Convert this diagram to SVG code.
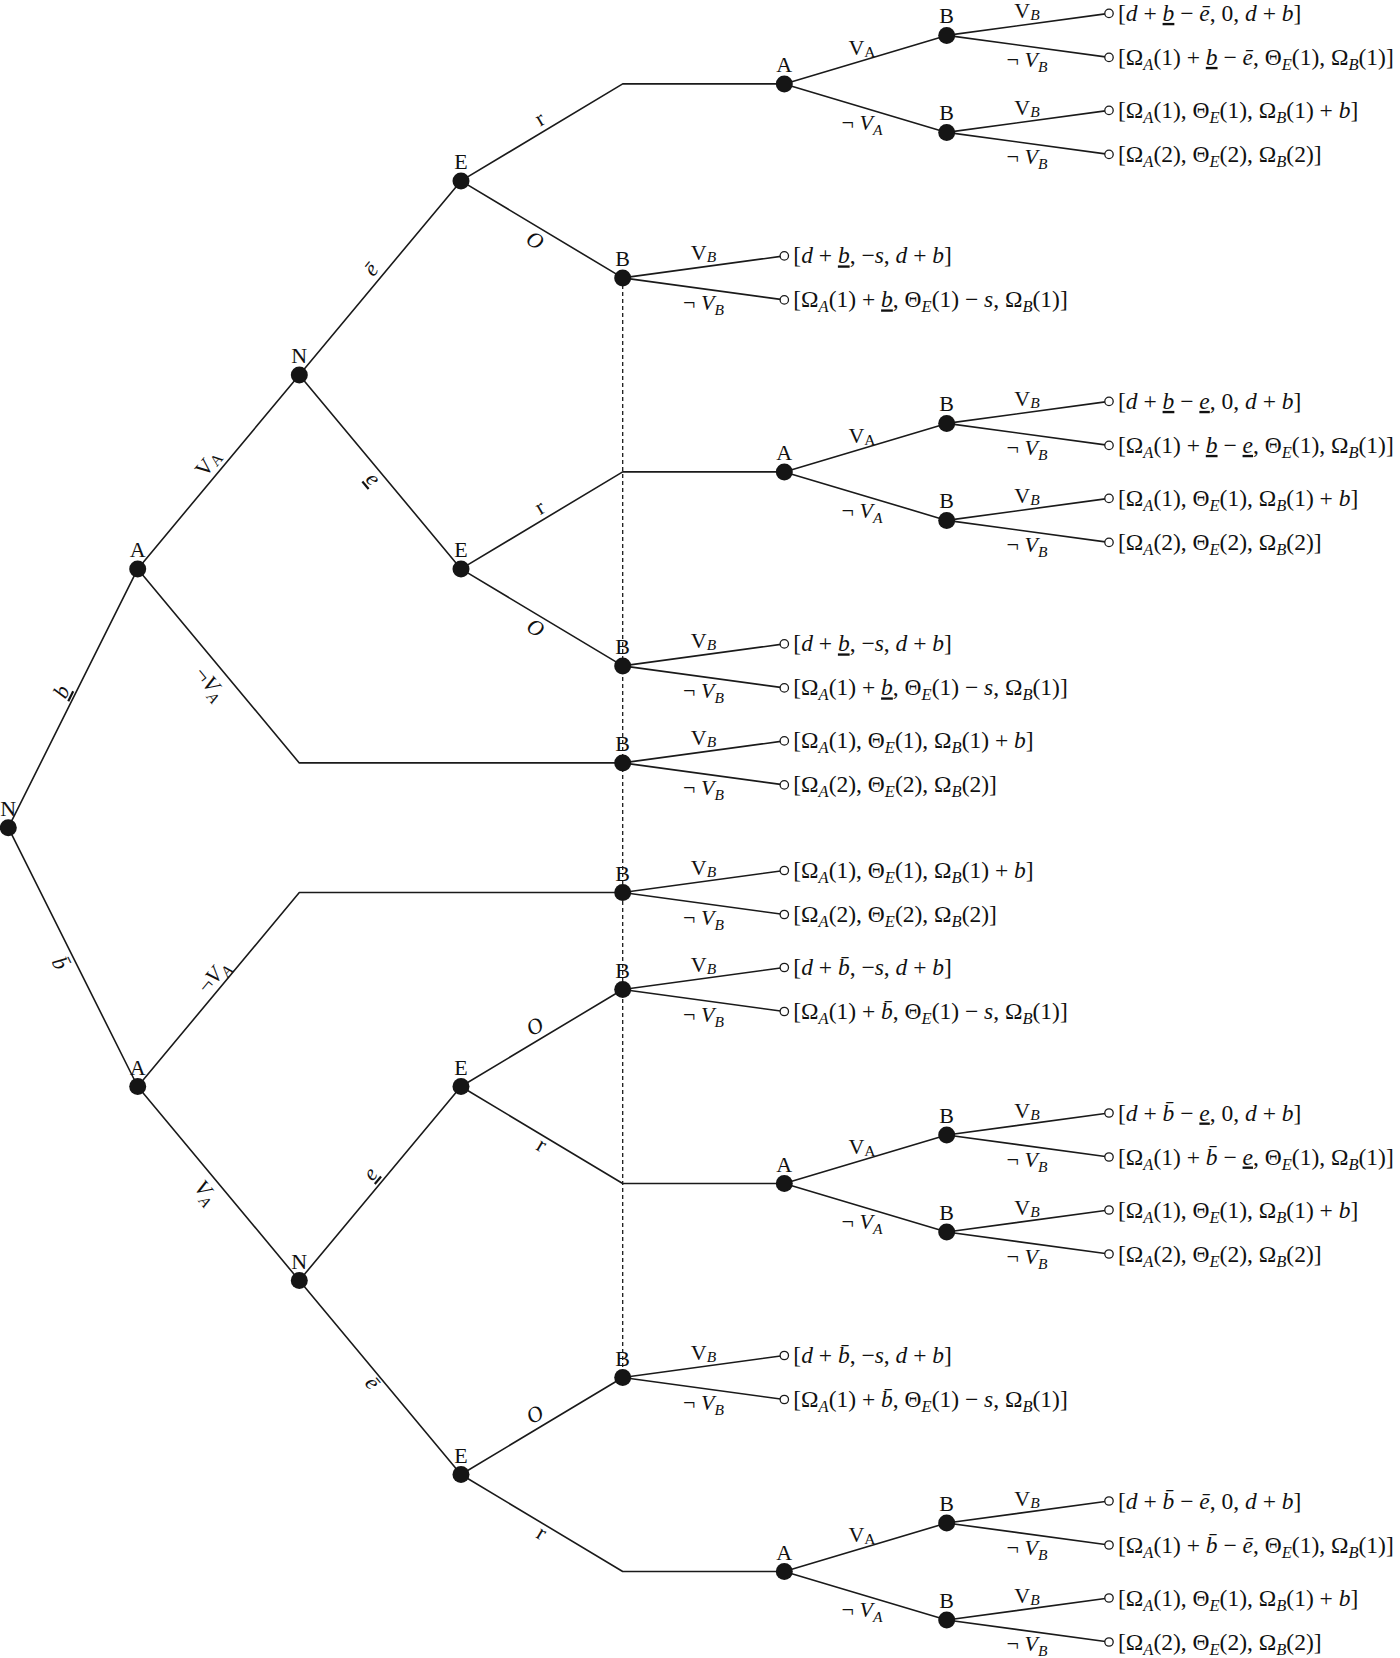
<svg xmlns="http://www.w3.org/2000/svg" width="1400" height="1658" viewBox="0 0 1400 1658">
<style>
.e{stroke:#1a1a1a;stroke-width:1.6;fill:none;stroke-linejoin:round}
.d{stroke:#1a1a1a;stroke-width:1.3;stroke-dasharray:4 3;fill:none}
.n{fill:#151515}
.o{fill:#fff;stroke:#1a1a1a;stroke-width:1.3}
text{font-family:"Liberation Serif","DejaVu Serif",serif;fill:#111}
.nl{font-size:22px;text-anchor:middle}
.el{font-size:22px;text-anchor:middle}
.el .s{font-size:15.5px}
.t{font-size:23.5px}
.t .s{font-size:16.5px}
.i{font-style:italic}
.u{text-decoration:underline}
</style>
<g id="connectors">
<path class="e" d="M8.3,827.7L137.7,568.9M8.3,827.7L137.7,1086.5"/>
<path class="e" d="M137.7,568.9L299.3,374.9M137.7,568.9L299.3,762.9L622.7,762.9"/>
<path class="e" d="M137.7,1086.5L299.3,892.5L622.7,892.5M137.7,1086.5L299.3,1280.5"/>
<path class="e" d="M299.3,374.9L461,180.9M299.3,374.9L461,568.9M299.3,1280.5L461,1086.5M299.3,1280.5L461,1474.5"/>
<path class="e" d="M461,180.9L622.7,83.9L784.3,83.9M461,180.9L622.7,277.9"/>
<path class="e" d="M461,568.9L622.7,471.9L784.3,471.9M461,568.9L622.7,665.9"/>
<path class="e" d="M461,1086.5L622.7,989.5M461,1086.5L622.7,1183.5L784.3,1183.5"/>
<path class="e" d="M461,1474.5L622.7,1377.5M461,1474.5L622.7,1571.5L784.3,1571.5"/>
<path class="e" d="M784.3,83.9L946.7,35.4M784.3,83.9L946.7,132.4M784.3,471.9L946.7,423.4M784.3,471.9L946.7,520.4M784.3,1183.5L946.7,1135M784.3,1183.5L946.7,1232M784.3,1571.5L946.7,1523M784.3,1571.5L946.7,1620"/>
<path class="e" d="M946.7,35.4L1109,13.4M946.7,35.4L1109,57.4M946.7,132.4L1109,110.4M946.7,132.4L1109,154.4M946.7,423.4L1109,401.4M946.7,423.4L1109,445.4M946.7,520.4L1109,498.4M946.7,520.4L1109,542.4"/>
<path class="e" d="M946.7,1135L1109,1113M946.7,1135L1109,1157M946.7,1232L1109,1210M946.7,1232L1109,1254M946.7,1523L1109,1501M946.7,1523L1109,1545M946.7,1620L1109,1598M946.7,1620L1109,1642"/>
<path class="e" d="M622.7,277.9L784.3,255.9M622.7,277.9L784.3,299.9M622.7,665.9L784.3,643.9M622.7,665.9L784.3,687.9M622.7,762.9L784.3,740.9M622.7,762.9L784.3,784.9"/>
<path class="e" d="M622.7,892.5L784.3,870.5M622.7,892.5L784.3,914.5M622.7,989.5L784.3,967.5M622.7,989.5L784.3,1011.5M622.7,1377.5L784.3,1355.5M622.7,1377.5L784.3,1399.5"/>
<path class="d" d="M622.7,277.9L622.7,1377.5"/>
</g>
<g id="edge-labels">
<text class="el" transform="translate(61.7,691.7) rotate(-63.4)" y="7"><tspan class="i u">b</tspan></text>
<text class="el" transform="translate(60,963.3) rotate(63.4)" y="7"><tspan class="i">b̄</tspan></text>
<text class="el" transform="translate(208.3,463.3) rotate(-50.2)" y="7">V<tspan class="s" dy="2">A</tspan></text>
<text class="el" transform="translate(210,683.3) rotate(50.2)" y="7">¬<tspan class="i">V</tspan><tspan class="i s" dy="5">A</tspan></text>
<text class="el" transform="translate(213.3,976.7) rotate(-50.2)" y="7">¬<tspan class="i">V</tspan><tspan class="i s" dy="5">A</tspan></text>
<text class="el" transform="translate(206,1192) rotate(50.2)" y="7"><tspan class="i">V</tspan><tspan class="i s" dy="5">A</tspan></text>
<text class="el" transform="translate(371.7,270) rotate(-50.2)" y="6"><tspan class="i">ē</tspan></text>
<text class="el" transform="translate(371.7,480) rotate(50.2)" y="5"><tspan class="i u">e</tspan></text>
<text class="el" transform="translate(371.7,1175) rotate(-50.2)" y="5"><tspan class="i u">e</tspan></text>
<text class="el" transform="translate(371.7,1383.3) rotate(50.2)" y="6"><tspan class="i">ē</tspan></text>
<text class="el" transform="translate(540.7,120.7) rotate(-31)" y="5">r</text>
<text class="el" transform="translate(535,240.7) rotate(31)" y="7"><tspan class="i">O</tspan></text>
<text class="el" transform="translate(540.7,509) rotate(-31)" y="5">r</text>
<text class="el" transform="translate(535.5,628) rotate(31)" y="7"><tspan class="i">O</tspan></text>
<text class="el" transform="translate(535,1026.7) rotate(-31)" y="7"><tspan class="i">O</tspan></text>
<text class="el" transform="translate(540.7,1146.5) rotate(31)" y="5">r</text>
<text class="el" transform="translate(535,1414.7) rotate(-31)" y="7"><tspan class="i">O</tspan></text>
<text class="el" transform="translate(540.7,1534.5) rotate(31)" y="5">r</text>
<text class="el" x="862" y="54.5">V<tspan class="s" dy="2">A</tspan></text>
<text class="el" x="862" y="129.5">¬ <tspan class="i">V</tspan><tspan class="i s" dy="5">A</tspan></text>
<text class="el" x="862" y="442.5">V<tspan class="s" dy="2">A</tspan></text>
<text class="el" x="862" y="517.5">¬ <tspan class="i">V</tspan><tspan class="i s" dy="5">A</tspan></text>
<text class="el" x="862" y="1154.1">V<tspan class="s" dy="2">A</tspan></text>
<text class="el" x="862" y="1229.1">¬ <tspan class="i">V</tspan><tspan class="i s" dy="5">A</tspan></text>
<text class="el" x="862" y="1542.1">V<tspan class="s" dy="2">A</tspan></text>
<text class="el" x="862" y="1617.1">¬ <tspan class="i">V</tspan><tspan class="i s" dy="5">A</tspan></text>
<text class="el" x="1027" y="17.9">V<tspan class="i s" dy="2">B</tspan></text>
<text class="el" x="1027" y="67.4">¬ <tspan class="i">V</tspan><tspan class="i s" dy="5">B</tspan></text>
<text class="el" x="1027" y="114.9">V<tspan class="i s" dy="2">B</tspan></text>
<text class="el" x="1027" y="164.4">¬ <tspan class="i">V</tspan><tspan class="i s" dy="5">B</tspan></text>
<text class="el" x="1027" y="405.9">V<tspan class="i s" dy="2">B</tspan></text>
<text class="el" x="1027" y="455.4">¬ <tspan class="i">V</tspan><tspan class="i s" dy="5">B</tspan></text>
<text class="el" x="1027" y="502.9">V<tspan class="i s" dy="2">B</tspan></text>
<text class="el" x="1027" y="552.4">¬ <tspan class="i">V</tspan><tspan class="i s" dy="5">B</tspan></text>
<text class="el" x="1027" y="1117.5">V<tspan class="i s" dy="2">B</tspan></text>
<text class="el" x="1027" y="1167">¬ <tspan class="i">V</tspan><tspan class="i s" dy="5">B</tspan></text>
<text class="el" x="1027" y="1214.5">V<tspan class="i s" dy="2">B</tspan></text>
<text class="el" x="1027" y="1264">¬ <tspan class="i">V</tspan><tspan class="i s" dy="5">B</tspan></text>
<text class="el" x="1027" y="1505.5">V<tspan class="i s" dy="2">B</tspan></text>
<text class="el" x="1027" y="1555">¬ <tspan class="i">V</tspan><tspan class="i s" dy="5">B</tspan></text>
<text class="el" x="1027" y="1602.5">V<tspan class="i s" dy="2">B</tspan></text>
<text class="el" x="1027" y="1651">¬ <tspan class="i">V</tspan><tspan class="i s" dy="5">B</tspan></text>
<text class="el" x="703.5" y="260.4">V<tspan class="i s" dy="2">B</tspan></text>
<text class="el" x="703.5" y="309.9">¬ <tspan class="i">V</tspan><tspan class="i s" dy="5">B</tspan></text>
<text class="el" x="703.5" y="648.4">V<tspan class="i s" dy="2">B</tspan></text>
<text class="el" x="703.5" y="697.9">¬ <tspan class="i">V</tspan><tspan class="i s" dy="5">B</tspan></text>
<text class="el" x="703.5" y="745.4">V<tspan class="i s" dy="2">B</tspan></text>
<text class="el" x="703.5" y="794.9">¬ <tspan class="i">V</tspan><tspan class="i s" dy="5">B</tspan></text>
<text class="el" x="703.5" y="875">V<tspan class="i s" dy="2">B</tspan></text>
<text class="el" x="703.5" y="924.5">¬ <tspan class="i">V</tspan><tspan class="i s" dy="5">B</tspan></text>
<text class="el" x="703.5" y="972">V<tspan class="i s" dy="2">B</tspan></text>
<text class="el" x="703.5" y="1021.5">¬ <tspan class="i">V</tspan><tspan class="i s" dy="5">B</tspan></text>
<text class="el" x="703.5" y="1360">V<tspan class="i s" dy="2">B</tspan></text>
<text class="el" x="703.5" y="1409.5">¬ <tspan class="i">V</tspan><tspan class="i s" dy="5">B</tspan></text>
</g>
<g id="node-root"><circle class="n" cx="8.3" cy="827.7" r="8.5"/><text class="nl" x="8.3" y="815.7">N</text></g>
<g id="node-A-upper"><circle class="n" cx="137.7" cy="568.9" r="8.5"/><text class="nl" x="137.7" y="556.9">A</text></g>
<g id="node-A-lower"><circle class="n" cx="137.7" cy="1086.5" r="8.5"/><text class="nl" x="137.7" y="1074.5">A</text></g>
<g id="node-N-upper"><circle class="n" cx="299.3" cy="374.9" r="8.5"/><text class="nl" x="299.3" y="362.9">N</text></g>
<g id="node-N-lower"><circle class="n" cx="299.3" cy="1280.5" r="8.5"/><text class="nl" x="299.3" y="1268.5">N</text></g>
<g id="node-E1"><circle class="n" cx="461" cy="180.9" r="8.5"/><text class="nl" x="461" y="168.9">E</text></g>
<g id="node-E2"><circle class="n" cx="461" cy="568.9" r="8.5"/><text class="nl" x="461" y="556.9">E</text></g>
<g id="node-E3"><circle class="n" cx="461" cy="1086.5" r="8.5"/><text class="nl" x="461" y="1074.5">E</text></g>
<g id="node-E4"><circle class="n" cx="461" cy="1474.5" r="8.5"/><text class="nl" x="461" y="1462.5">E</text></g>
<g id="node-B1"><circle class="n" cx="622.7" cy="277.9" r="8.5"/><text class="nl" x="622.7" y="265.9">B</text></g>
<g id="node-B2"><circle class="n" cx="622.7" cy="665.9" r="8.5"/><text class="nl" x="622.7" y="653.9">B</text></g>
<g id="node-B3"><circle class="n" cx="622.7" cy="762.9" r="8.5"/><text class="nl" x="622.7" y="750.9">B</text></g>
<g id="node-B4"><circle class="n" cx="622.7" cy="892.5" r="8.5"/><text class="nl" x="622.7" y="880.5">B</text></g>
<g id="node-B5"><circle class="n" cx="622.7" cy="989.5" r="8.5"/><text class="nl" x="622.7" y="977.5">B</text></g>
<g id="node-B6"><circle class="n" cx="622.7" cy="1377.5" r="8.5"/><text class="nl" x="622.7" y="1365.5">B</text></g>
<g id="node-A1"><circle class="n" cx="784.3" cy="83.9" r="8.5"/><text class="nl" x="784.3" y="71.9">A</text></g>
<g id="node-A2"><circle class="n" cx="784.3" cy="471.9" r="8.5"/><text class="nl" x="784.3" y="459.9">A</text></g>
<g id="node-A3"><circle class="n" cx="784.3" cy="1183.5" r="8.5"/><text class="nl" x="784.3" y="1171.5">A</text></g>
<g id="node-A4"><circle class="n" cx="784.3" cy="1571.5" r="8.5"/><text class="nl" x="784.3" y="1559.5">A</text></g>
<g id="node-B1a"><circle class="n" cx="946.7" cy="35.4" r="8.5"/><text class="nl" x="946.7" y="23.4">B</text></g>
<g id="node-B1b"><circle class="n" cx="946.7" cy="132.4" r="8.5"/><text class="nl" x="946.7" y="120.4">B</text></g>
<g id="node-B2a"><circle class="n" cx="946.7" cy="423.4" r="8.5"/><text class="nl" x="946.7" y="411.4">B</text></g>
<g id="node-B2b"><circle class="n" cx="946.7" cy="520.4" r="8.5"/><text class="nl" x="946.7" y="508.4">B</text></g>
<g id="node-B3a"><circle class="n" cx="946.7" cy="1135" r="8.5"/><text class="nl" x="946.7" y="1123">B</text></g>
<g id="node-B3b"><circle class="n" cx="946.7" cy="1232" r="8.5"/><text class="nl" x="946.7" y="1220">B</text></g>
<g id="node-B4a"><circle class="n" cx="946.7" cy="1523" r="8.5"/><text class="nl" x="946.7" y="1511">B</text></g>
<g id="node-B4b"><circle class="n" cx="946.7" cy="1620" r="8.5"/><text class="nl" x="946.7" y="1608">B</text></g>
<g id="leaf-1"><circle class="o" cx="1109" cy="13.4" r="4.2"/><text class="t" x="1118" y="20.9">[<tspan class="i">d</tspan> + <tspan class="i u">b</tspan> − <tspan class="i">ē</tspan>, 0, <tspan class="i">d</tspan> + <tspan class="i">b</tspan>]</text></g>
<g id="leaf-2"><circle class="o" cx="1109" cy="57.4" r="4.2"/><text class="t" x="1118" y="64.9">[Ω<tspan class="i s" dy="5">A</tspan><tspan dy="-5">(1) + </tspan><tspan class="i u">b</tspan> − <tspan class="i">ē</tspan>, Θ<tspan class="i s" dy="5">E</tspan><tspan dy="-5">(1), Ω</tspan><tspan class="i s" dy="5">B</tspan><tspan dy="-5">(1)]</tspan></text></g>
<g id="leaf-3"><circle class="o" cx="1109" cy="110.4" r="4.2"/><text class="t" x="1118" y="117.9">[Ω<tspan class="i s" dy="5">A</tspan><tspan dy="-5">(1), Θ</tspan><tspan class="i s" dy="5">E</tspan><tspan dy="-5">(1), Ω</tspan><tspan class="i s" dy="5">B</tspan><tspan dy="-5">(1) + </tspan><tspan class="i">b</tspan>]</text></g>
<g id="leaf-4"><circle class="o" cx="1109" cy="154.4" r="4.2"/><text class="t" x="1118" y="161.9">[Ω<tspan class="i s" dy="5">A</tspan><tspan dy="-5">(2), Θ</tspan><tspan class="i s" dy="5">E</tspan><tspan dy="-5">(2), Ω</tspan><tspan class="i s" dy="5">B</tspan><tspan dy="-5">(2)]</tspan></text></g>
<g id="leaf-5"><circle class="o" cx="1109" cy="401.4" r="4.2"/><text class="t" x="1118" y="408.9">[<tspan class="i">d</tspan> + <tspan class="i u">b</tspan> − <tspan class="i u">e</tspan>, 0, <tspan class="i">d</tspan> + <tspan class="i">b</tspan>]</text></g>
<g id="leaf-6"><circle class="o" cx="1109" cy="445.4" r="4.2"/><text class="t" x="1118" y="452.9">[Ω<tspan class="i s" dy="5">A</tspan><tspan dy="-5">(1) + </tspan><tspan class="i u">b</tspan> − <tspan class="i u">e</tspan>, Θ<tspan class="i s" dy="5">E</tspan><tspan dy="-5">(1), Ω</tspan><tspan class="i s" dy="5">B</tspan><tspan dy="-5">(1)]</tspan></text></g>
<g id="leaf-7"><circle class="o" cx="1109" cy="498.4" r="4.2"/><text class="t" x="1118" y="505.9">[Ω<tspan class="i s" dy="5">A</tspan><tspan dy="-5">(1), Θ</tspan><tspan class="i s" dy="5">E</tspan><tspan dy="-5">(1), Ω</tspan><tspan class="i s" dy="5">B</tspan><tspan dy="-5">(1) + </tspan><tspan class="i">b</tspan>]</text></g>
<g id="leaf-8"><circle class="o" cx="1109" cy="542.4" r="4.2"/><text class="t" x="1118" y="549.9">[Ω<tspan class="i s" dy="5">A</tspan><tspan dy="-5">(2), Θ</tspan><tspan class="i s" dy="5">E</tspan><tspan dy="-5">(2), Ω</tspan><tspan class="i s" dy="5">B</tspan><tspan dy="-5">(2)]</tspan></text></g>
<g id="leaf-9"><circle class="o" cx="1109" cy="1113" r="4.2"/><text class="t" x="1118" y="1120.5">[<tspan class="i">d</tspan> + <tspan class="i">b̄</tspan> − <tspan class="i u">e</tspan>, 0, <tspan class="i">d</tspan> + <tspan class="i">b</tspan>]</text></g>
<g id="leaf-10"><circle class="o" cx="1109" cy="1157" r="4.2"/><text class="t" x="1118" y="1164.5">[Ω<tspan class="i s" dy="5">A</tspan><tspan dy="-5">(1) + </tspan><tspan class="i">b̄</tspan> − <tspan class="i u">e</tspan>, Θ<tspan class="i s" dy="5">E</tspan><tspan dy="-5">(1), Ω</tspan><tspan class="i s" dy="5">B</tspan><tspan dy="-5">(1)]</tspan></text></g>
<g id="leaf-11"><circle class="o" cx="1109" cy="1210" r="4.2"/><text class="t" x="1118" y="1217.5">[Ω<tspan class="i s" dy="5">A</tspan><tspan dy="-5">(1), Θ</tspan><tspan class="i s" dy="5">E</tspan><tspan dy="-5">(1), Ω</tspan><tspan class="i s" dy="5">B</tspan><tspan dy="-5">(1) + </tspan><tspan class="i">b</tspan>]</text></g>
<g id="leaf-12"><circle class="o" cx="1109" cy="1254" r="4.2"/><text class="t" x="1118" y="1261.5">[Ω<tspan class="i s" dy="5">A</tspan><tspan dy="-5">(2), Θ</tspan><tspan class="i s" dy="5">E</tspan><tspan dy="-5">(2), Ω</tspan><tspan class="i s" dy="5">B</tspan><tspan dy="-5">(2)]</tspan></text></g>
<g id="leaf-13"><circle class="o" cx="1109" cy="1501" r="4.2"/><text class="t" x="1118" y="1508.5">[<tspan class="i">d</tspan> + <tspan class="i">b̄</tspan> − <tspan class="i">ē</tspan>, 0, <tspan class="i">d</tspan> + <tspan class="i">b</tspan>]</text></g>
<g id="leaf-14"><circle class="o" cx="1109" cy="1545" r="4.2"/><text class="t" x="1118" y="1552.5">[Ω<tspan class="i s" dy="5">A</tspan><tspan dy="-5">(1) + </tspan><tspan class="i">b̄</tspan> − <tspan class="i">ē</tspan>, Θ<tspan class="i s" dy="5">E</tspan><tspan dy="-5">(1), Ω</tspan><tspan class="i s" dy="5">B</tspan><tspan dy="-5">(1)]</tspan></text></g>
<g id="leaf-15"><circle class="o" cx="1109" cy="1598" r="4.2"/><text class="t" x="1118" y="1605.5">[Ω<tspan class="i s" dy="5">A</tspan><tspan dy="-5">(1), Θ</tspan><tspan class="i s" dy="5">E</tspan><tspan dy="-5">(1), Ω</tspan><tspan class="i s" dy="5">B</tspan><tspan dy="-5">(1) + </tspan><tspan class="i">b</tspan>]</text></g>
<g id="leaf-16"><circle class="o" cx="1109" cy="1642" r="4.2"/><text class="t" x="1118" y="1649.5">[Ω<tspan class="i s" dy="5">A</tspan><tspan dy="-5">(2), Θ</tspan><tspan class="i s" dy="5">E</tspan><tspan dy="-5">(2), Ω</tspan><tspan class="i s" dy="5">B</tspan><tspan dy="-5">(2)]</tspan></text></g>
<g id="leaf-17"><circle class="o" cx="784.3" cy="255.9" r="4.2"/><text class="t" x="793.3" y="263.4">[<tspan class="i">d</tspan> + <tspan class="i u">b</tspan>, −<tspan class="i">s</tspan>, <tspan class="i">d</tspan> + <tspan class="i">b</tspan>]</text></g>
<g id="leaf-18"><circle class="o" cx="784.3" cy="299.9" r="4.2"/><text class="t" x="793.3" y="307.4">[Ω<tspan class="i s" dy="5">A</tspan><tspan dy="-5">(1) + </tspan><tspan class="i u">b</tspan>, Θ<tspan class="i s" dy="5">E</tspan><tspan dy="-5">(1) − </tspan><tspan class="i">s</tspan>, Ω<tspan class="i s" dy="5">B</tspan><tspan dy="-5">(1)]</tspan></text></g>
<g id="leaf-19"><circle class="o" cx="784.3" cy="643.9" r="4.2"/><text class="t" x="793.3" y="651.4">[<tspan class="i">d</tspan> + <tspan class="i u">b</tspan>, −<tspan class="i">s</tspan>, <tspan class="i">d</tspan> + <tspan class="i">b</tspan>]</text></g>
<g id="leaf-20"><circle class="o" cx="784.3" cy="687.9" r="4.2"/><text class="t" x="793.3" y="695.4">[Ω<tspan class="i s" dy="5">A</tspan><tspan dy="-5">(1) + </tspan><tspan class="i u">b</tspan>, Θ<tspan class="i s" dy="5">E</tspan><tspan dy="-5">(1) − </tspan><tspan class="i">s</tspan>, Ω<tspan class="i s" dy="5">B</tspan><tspan dy="-5">(1)]</tspan></text></g>
<g id="leaf-21"><circle class="o" cx="784.3" cy="740.9" r="4.2"/><text class="t" x="793.3" y="748.4">[Ω<tspan class="i s" dy="5">A</tspan><tspan dy="-5">(1), Θ</tspan><tspan class="i s" dy="5">E</tspan><tspan dy="-5">(1), Ω</tspan><tspan class="i s" dy="5">B</tspan><tspan dy="-5">(1) + </tspan><tspan class="i">b</tspan>]</text></g>
<g id="leaf-22"><circle class="o" cx="784.3" cy="784.9" r="4.2"/><text class="t" x="793.3" y="792.4">[Ω<tspan class="i s" dy="5">A</tspan><tspan dy="-5">(2), Θ</tspan><tspan class="i s" dy="5">E</tspan><tspan dy="-5">(2), Ω</tspan><tspan class="i s" dy="5">B</tspan><tspan dy="-5">(2)]</tspan></text></g>
<g id="leaf-23"><circle class="o" cx="784.3" cy="870.5" r="4.2"/><text class="t" x="793.3" y="878">[Ω<tspan class="i s" dy="5">A</tspan><tspan dy="-5">(1), Θ</tspan><tspan class="i s" dy="5">E</tspan><tspan dy="-5">(1), Ω</tspan><tspan class="i s" dy="5">B</tspan><tspan dy="-5">(1) + </tspan><tspan class="i">b</tspan>]</text></g>
<g id="leaf-24"><circle class="o" cx="784.3" cy="914.5" r="4.2"/><text class="t" x="793.3" y="922">[Ω<tspan class="i s" dy="5">A</tspan><tspan dy="-5">(2), Θ</tspan><tspan class="i s" dy="5">E</tspan><tspan dy="-5">(2), Ω</tspan><tspan class="i s" dy="5">B</tspan><tspan dy="-5">(2)]</tspan></text></g>
<g id="leaf-25"><circle class="o" cx="784.3" cy="967.5" r="4.2"/><text class="t" x="793.3" y="975">[<tspan class="i">d</tspan> + <tspan class="i">b̄</tspan>, −<tspan class="i">s</tspan>, <tspan class="i">d</tspan> + <tspan class="i">b</tspan>]</text></g>
<g id="leaf-26"><circle class="o" cx="784.3" cy="1011.5" r="4.2"/><text class="t" x="793.3" y="1019">[Ω<tspan class="i s" dy="5">A</tspan><tspan dy="-5">(1) + </tspan><tspan class="i">b̄</tspan>, Θ<tspan class="i s" dy="5">E</tspan><tspan dy="-5">(1) − </tspan><tspan class="i">s</tspan>, Ω<tspan class="i s" dy="5">B</tspan><tspan dy="-5">(1)]</tspan></text></g>
<g id="leaf-27"><circle class="o" cx="784.3" cy="1355.5" r="4.2"/><text class="t" x="793.3" y="1363">[<tspan class="i">d</tspan> + <tspan class="i">b̄</tspan>, −<tspan class="i">s</tspan>, <tspan class="i">d</tspan> + <tspan class="i">b</tspan>]</text></g>
<g id="leaf-28"><circle class="o" cx="784.3" cy="1399.5" r="4.2"/><text class="t" x="793.3" y="1407">[Ω<tspan class="i s" dy="5">A</tspan><tspan dy="-5">(1) + </tspan><tspan class="i">b̄</tspan>, Θ<tspan class="i s" dy="5">E</tspan><tspan dy="-5">(1) − </tspan><tspan class="i">s</tspan>, Ω<tspan class="i s" dy="5">B</tspan><tspan dy="-5">(1)]</tspan></text></g>
</svg>
